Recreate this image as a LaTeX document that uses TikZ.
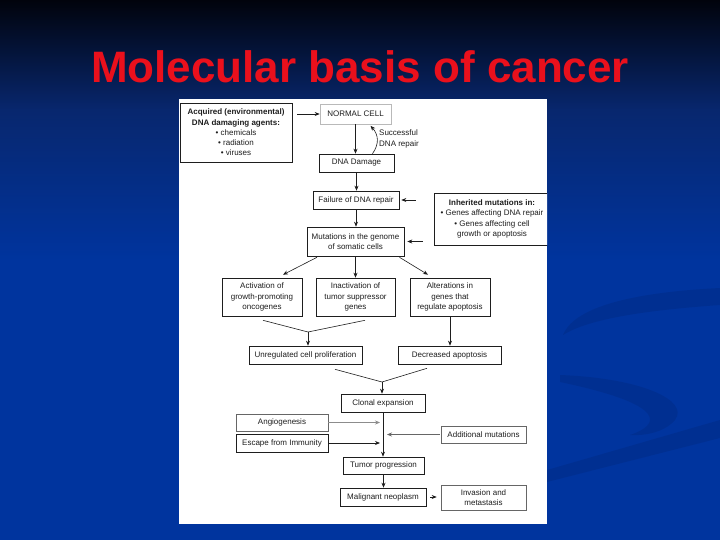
\documentclass[tikz,border=0pt]{standalone}
\usepackage{fontspec}
\setmainfont{Liberation Sans}
\usetikzlibrary{arrows.meta,calc}
\definecolor{bgtop}{HTML}{01030C}
\definecolor{bgmid}{HTML}{08276E}
\definecolor{bgbot}{HTML}{00349E}
\definecolor{titlered}{HTML}{EA101C}
\definecolor{ink}{HTML}{1E1E1E}
\begin{document}
\begin{tikzpicture}[x=1pt,y=-1pt,
  box/.style={draw=ink, line width=0.6pt, fill=white, text=ink, align=center, inner sep=1pt, font=\fontsize{8}{10.3}\selectfont},
  arr/.style={draw=ink, line width=0.6pt, -{Stealth[length=5pt,width=4pt]}},
  ln/.style={draw=ink, line width=0.6pt}]
\useasboundingbox (0,0) rectangle (720,540);
% background
\shade[top color=bgtop, bottom color=bgmid] (0,0) rectangle (720,110);
\shade[top color=bgmid, bottom color=bgbot] (0,109.5) rectangle (720,260);
\fill[bgbot] (0,259.5) rectangle (720,540);
% decorative swooshes
\fill[black, opacity=0.08] (720,288) .. controls (640,292) and (575,305) .. (563,335) .. controls (590,318) and (650,310) .. (720,305) -- cycle;
\fill[black, opacity=0.08] (560,375) .. controls (640,378) and (690,400) .. (675,420) .. controls (665,432) and (645,436) .. (630,435) .. controls (660,425) and (670,405) .. (560,382) -- cycle;
\fill[black, opacity=0.08] (547,470) -- (720,420) -- (720,438) -- (547,482) -- cycle;
% title
\node[text=titlered, font=\fontsize{44}{44}\selectfont\bfseries, anchor=base, inner sep=0pt] (title) at (360,83) {Molecular basis of cancer};
% panel
\fill[white] (179,99) rectangle (547,524);
\begin{scope}
\clip (179,99) rectangle (547,524);
\node[box, minimum width=112pt, minimum height=59pt] (acq) at (236,132.5)
  {{\bfseries Acquired (environmental)}\\{\bfseries DNA damaging agents:}\\• chemicals\\• radiation\\• viruses};
\node[box, draw=gray!55, minimum width=71pt, minimum height=20pt] (normal) at (355.5,114) {NORMAL CELL};
\node[box, minimum width=75pt, minimum height=18pt] (dnad) at (356.5,163) {DNA Damage};
\node[box, minimum width=86pt, minimum height=18pt] (fail) at (356,200) {Failure of DNA repair};
\node[box, minimum width=116pt, minimum height=52pt] (inh) at (492,219)
  {{\bfseries Inherited mutations in:}\\• Genes affecting DNA repair\\• Genes affecting cell\\growth or apoptosis};
\node[box, minimum width=97pt, minimum height=29pt] (mut) at (355.5,241.5) {Mutations in the genome\\of somatic cells};
\node[box, minimum width=80pt, minimum height=38pt] (act) at (262,297) {Activation of\\growth-promoting\\oncogenes};
\node[box, minimum width=79pt, minimum height=38pt] (inact) at (355.5,297) {Inactivation of\\tumor suppressor\\genes};
\node[box, minimum width=80pt, minimum height=38pt] (alt) at (450,297) {Alterations in\\genes that\\regulate apoptosis};
\node[box, minimum width=113pt, minimum height=18pt] (unreg) at (305.5,355) {Unregulated cell proliferation};
\node[box, minimum width=103pt, minimum height=18pt] (decr) at (449.5,355) {Decreased apoptosis};
\node[box, minimum width=84pt, minimum height=18pt] (clonal) at (383,403) {Clonal expansion};
\node[box, draw=gray!80!black, minimum width=92pt, minimum height=17pt] (angio) at (282,422.5) {Angiogenesis};
\node[box, minimum width=92pt, minimum height=18pt] (escape) at (282,443) {Escape from Immunity};
\node[box, draw=gray!80!black, minimum width=85pt, minimum height=17pt] (addm) at (483.5,434.5) {Additional mutations};
\node[box, minimum width=81pt, minimum height=17pt] (tumor) at (383.5,465.5) {Tumor progression};
\node[box, minimum width=86pt, minimum height=18pt] (malig) at (383,497) {Malignant neoplasm};
\node[box, draw=gray!80!black, minimum width=85pt, minimum height=25pt] (inv) at (483.5,497.5) {Invasion and\\metastasis};
\node[text=ink, align=left, anchor=west, inner sep=0pt, font=\fontsize{8}{10.3}\selectfont] (succ) at (379,139) {Successful\\DNA repair};
% connectors
\draw[arr] ([xshift=5pt]acq.east |- normal.west) -- (normal.west);
\draw[arr] (normal.south) -- (normal.south |- dnad.north);
\draw[arr] ([xshift=16pt]dnad.north) .. controls +(7,-10) and +(8,9) .. ([xshift=15pt,yshift=-1.5pt]normal.south);
\draw[arr] (dnad.south) -- (dnad.south |- fail.north);
\draw[arr] ([xshift=-18pt]inh.west |- fail.east) -- ([xshift=2pt]fail.east);
\draw[arr] (fail.south) -- (fail.south |- mut.north);
\draw[arr] ([xshift=-11pt]inh.west |- mut.east) -- ([xshift=3pt]mut.east);
\draw[arr] ([xshift=-38.5pt,yshift=-1pt]mut.south) -- ([xshift=21pt,yshift=3pt]act.north);
\draw[arr] ([yshift=-1pt]mut.south) -- (mut.south |- inact.north);
\draw[arr] ([xshift=44pt,yshift=-1pt]mut.south) -- ([xshift=-22pt,yshift=3pt]alt.north);
\coordinate (m1) at (308,332);
\draw[ln] ([xshift=1pt,yshift=-4pt]act.south) -- (m1) -- ([xshift=9.5pt,yshift=-4pt]inact.south);
\draw[arr] (m1) -- (m1 |- unreg.north);
\draw[arr] (alt.south) -- (alt.south |- decr.north);
\coordinate (m2) at (382,382);
\draw[ln] ([xshift=29.5pt,yshift=-5pt]unreg.south) -- (m2) -- ([xshift=-22.5pt,yshift=-4pt]decr.south);
\draw[arr] (m2) -- (m2 |- clonal.north);
\draw[arr] (clonal.south) -- (clonal.south |- tumor.north);
\draw[arr, draw=gray!90] (angio.east) -- ($(angio.east -| clonal.south)+(-3,0)$);
\draw[arr, line width=1pt] (escape.east) -- ($(escape.east -| clonal.south)+(-3,0)$);
\draw[arr, draw=gray!80!black] ([xshift=-1pt]addm.west) -- ($(addm.west -| clonal.south)+(4,0)$);
\draw[arr] (tumor.south) -- (tumor.south |- malig.north);
\draw[arr] ([xshift=4pt]malig.east) -- ([xshift=-4pt]inv.west |- malig.east);
\end{scope}
\end{tikzpicture}
\end{document}
